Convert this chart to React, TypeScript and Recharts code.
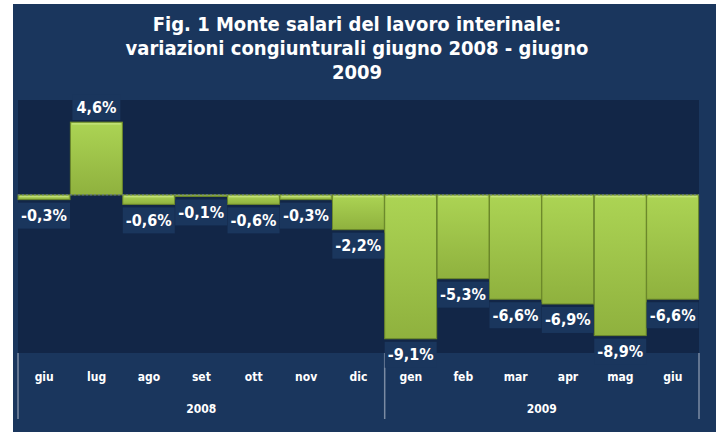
import { BarChart, Bar, XAxis, YAxis, CartesianGrid, ReferenceLine, LabelList } from 'recharts';

const months = ['giu', 'lug', 'ago', 'set', 'ott', 'nov', 'dic', 'gen', 'feb', 'mar', 'apr', 'mag', 'giu'];
const years = ['2008', '2008', '2008', '2008', '2008', '2008', '2008', '2009', '2009', '2009', '2009', '2009', '2009'];
const changes = [-0.3, 4.6, -0.6, -0.1, -0.6, -0.3, -2.2, -9.1, -5.3, -6.6, -6.9, -8.9, -6.6];
const titleLines = [
  'Fig. 1 Monte salari del lavoro interinale:',
  'variazioni congiunturali giugno 2008 - giugno',
  '2009',
];

const data = months.map((month, i) => ({ month, year: years[i], value: changes[i] }));

const FONT = '"DejaVu Sans Condensed", "DejaVu Sans", Verdana, sans-serif';
const OUTER_BG = '#1a365d';
const PLOT_BG = '#122647';
const MONTH_AXIS_H = 30;

const fmt = (v: number) => v.toFixed(1).replace('.', ',') + '%';

// rough width of the label text, used to size the box behind it
const textWidth = (s: string, size: number) => {
  let w = 0;
  for (const ch of s) {
    if (ch === '%') w += 0.9;
    else if (ch === ',') w += 0.34;
    else if (ch === '-') w += 0.4;
    else w += 0.63;
  }
  return w * size;
};

const BarShape = (props: any) => {
  const { x, y, width, height } = props;
  const top = Math.min(y, y + height);
  const h = Math.abs(height);
  return (
    <g>
      <rect x={x} y={top} width={width} height={h} fill="url(#barGrad)" stroke="#6b872a" strokeWidth={1} />
      {h > 3 && <rect x={x + 1.5} y={top + 1} width={width - 3} height={1.5} fill="#d2ec92" opacity={0.6} />}
    </g>
  );
};

const ValueLabel = (props: any) => {
  const { x, y, width, height, value } = props;
  const end = value >= 0 ? Math.min(y, y + height) : Math.max(y, y + height);
  const cy = value >= 0 ? end - 15 : end + 16;
  const label = fmt(value);
  const w = Math.min(width, textWidth(label, 16) + 8);
  const cx = x + width / 2;
  return (
    <g>
      <rect x={cx - w / 2} y={cy - 13} width={w} height={26} fill={OUTER_BG} />
      <text x={cx} y={cy} textAnchor="middle" dominantBaseline="central" fill="#ffffff"
        fontFamily={FONT} fontWeight="bold" fontSize={16}>
        {label}
      </text>
    </g>
  );
};

const MonthTick = (props: any) => {
  const { x, y, payload } = props;
  return (
    <text x={x} y={y + 24} textAnchor="middle" dominantBaseline="central" fill="#ffffff"
      fontFamily={FONT} fontWeight="bold" fontSize={12}>
      {payload.value}
    </text>
  );
};

const YearTick = (props: any) => {
  const { x, y, payload } = props;
  const i = payload.index;
  const off = payload.offset || 26.2;
  const first = i === 0 || years[i - 1] !== years[i];
  const last = i === years.length - 1;
  const lineTop = y - MONTH_AXIS_H;
  const lineBottom = y + 36;
  let n = 0;
  if (first) {
    while (i + n < years.length && years[i + n] === years[i]) n++;
  }
  return (
    <g>
      {first && <line x1={x - off} x2={x - off} y1={lineTop} y2={lineBottom} stroke="#7b8ba3" strokeWidth={1.5} />}
      {last && <line x1={x + off} x2={x + off} y1={lineTop} y2={lineBottom} stroke="#7b8ba3" strokeWidth={1.5} />}
      {first && (
        <text x={x - off + n * off} y={y + 26} textAnchor="middle" dominantBaseline="central" fill="#ffffff"
          fontFamily={FONT} fontWeight="bold" fontSize={12}>
          {years[i]}
        </text>
      )}
    </g>
  );
};

export default function App() {
  return (
    <div style={{ position: 'absolute', left: 13, top: 4, width: 703, height: 428, background: OUTER_BG }}>
      <div
        style={{
          position: 'absolute',
          left: 0,
          top: 8,
          width: 688,
          textAlign: 'center',
          color: '#ffffff',
          fontFamily: FONT,
          fontWeight: 'bold',
          fontSize: 20,
          lineHeight: '24px',
        }}
      >
        {titleLines.map((t, i) => (
          <div key={i}>{t}</div>
        ))}
      </div>
      <BarChart
        width={703}
        height={428}
        data={data}
        margin={{ top: 96, right: 17, bottom: 15, left: 5 }}
        barCategoryGap={0}
        style={{ position: 'absolute', left: 0, top: 0 }}
      >
        <defs>
          <linearGradient id="barGrad" x1="0" y1="0" x2="0" y2="1">
            <stop offset="0%" stopColor="#acd454" />
            <stop offset="100%" stopColor="#8fb13e" />
          </linearGradient>
        </defs>
        <CartesianGrid fill={PLOT_BG} horizontal={false} vertical={false} />
        <XAxis
          xAxisId="m"
          dataKey="month"
          interval={0}
          axisLine={false}
          tickLine={false}
          tickSize={0}
          tickMargin={0}
          height={MONTH_AXIS_H}
          tick={MonthTick}
        />
        <XAxis
          xAxisId="y"
          dataKey="year"
          interval={0}
          axisLine={false}
          tickLine={false}
          tickSize={0}
          tickMargin={0}
          height={34}
          tick={YearTick}
        />
        <YAxis hide domain={[-10, 6]} />
        <ReferenceLine xAxisId="m" y={0} stroke="#6a7c96" strokeDasharray="2 2" />
        <Bar xAxisId="m" dataKey="value" shape={BarShape} isAnimationActive={false}>
          <LabelList dataKey="value" content={ValueLabel} />
        </Bar>
      </BarChart>
    </div>
  );
}
